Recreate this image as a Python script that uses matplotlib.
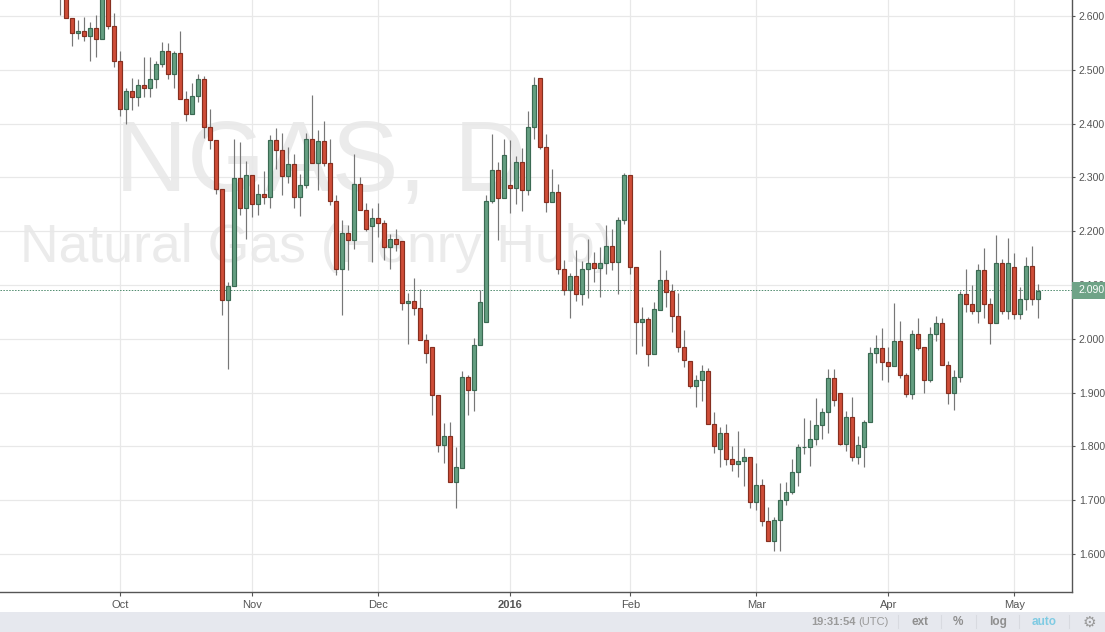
import matplotlib
matplotlib.use("Agg")
import matplotlib.pyplot as plt
from matplotlib.patches import Rectangle
import numpy as np

opens = [2.670, 2.640, 2.596, 2.568, 2.572, 2.562, 2.577, 2.557, 2.640, 2.581,
         2.516, 2.427, 2.460, 2.449, 2.471, 2.467, 2.482, 2.510, 2.534, 2.492,
         2.531, 2.445, 2.417, 2.451, 2.482, 2.393, 2.369, 2.278, 2.072, 2.098,
         2.298, 2.243, 2.304, 2.250, 2.270, 2.264, 2.370, 2.350, 2.302, 2.324,
         2.264, 2.285, 2.372, 2.326, 2.367, 2.326, 2.257, 2.129, 2.197, 2.184,
         2.287, 2.240, 2.209, 2.225, 2.216, 2.171, 2.186, 2.181, 2.066, 2.071,
         2.058, 1.997, 1.984, 1.895, 1.802, 1.820, 1.733, 1.760, 1.929, 1.904,
         1.989, 2.032, 2.257, 2.313, 2.262, 2.285, 2.281, 2.329, 2.277, 2.393,
         2.484, 2.357, 2.255, 2.272, 2.130, 2.090, 2.117, 2.084, 2.129, 2.140,
         2.132, 2.140, 2.173, 2.142, 2.220, 2.305, 2.134, 2.032, 2.036, 1.972,
         2.054, 2.109, 2.088, 2.042, 1.985, 1.959, 1.912, 1.923, 1.940, 1.842,
         1.795, 1.825, 1.777, 1.767, 1.773, 1.780, 1.697, 1.728, 1.661, 1.624,
         1.663, 1.700, 1.715, 1.752, 1.799, 1.799, 1.814, 1.840, 1.864, 1.927,
         1.899, 1.804, 1.854, 1.780, 1.799, 1.845, 1.973, 1.983, 1.957, 1.949,
         1.996, 1.932, 1.897, 2.009, 1.984, 1.923, 2.009, 2.029, 1.951, 1.899,
         1.929, 2.083, 2.064, 2.051, 2.128, 2.064, 2.029, 2.141, 2.051, 2.133,
         2.046, 2.074, 2.135, 2.074]
closes = [2.640, 2.596, 2.568, 2.572, 2.562, 2.577, 2.557, 2.640, 2.581, 2.516,
          2.427, 2.460, 2.449, 2.471, 2.467, 2.482, 2.510, 2.534, 2.492, 2.531,
          2.445, 2.417, 2.451, 2.482, 2.393, 2.369, 2.278, 2.072, 2.098, 2.298,
          2.243, 2.304, 2.250, 2.270, 2.264, 2.370, 2.350, 2.302, 2.324, 2.264,
          2.285, 2.372, 2.326, 2.367, 2.326, 2.257, 2.129, 2.197, 2.184, 2.287,
          2.240, 2.205, 2.225, 2.216, 2.171, 2.186, 2.177, 2.066, 2.071, 2.058,
          1.997, 1.973, 1.895, 1.802, 1.820, 1.733, 1.761, 1.929, 1.904, 1.988,
          2.069, 2.257, 2.313, 2.262, 2.342, 2.281, 2.329, 2.277, 2.393, 2.471,
          2.357, 2.255, 2.272, 2.130, 2.091, 2.117, 2.084, 2.129, 2.140, 2.132,
          2.140, 2.173, 2.142, 2.220, 2.305, 2.134, 2.032, 2.036, 1.972, 2.056,
          2.109, 2.087, 2.042, 1.985, 1.961, 1.912, 1.923, 1.940, 1.842, 1.801,
          1.825, 1.777, 1.767, 1.773, 1.780, 1.697, 1.728, 1.661, 1.624, 1.663,
          1.700, 1.715, 1.752, 1.799, 1.799, 1.814, 1.840, 1.864, 1.927, 1.886,
          1.804, 1.854, 1.780, 1.802, 1.845, 1.973, 1.983, 1.957, 1.949, 1.996,
          1.932, 1.897, 2.009, 1.983, 1.923, 2.009, 2.029, 1.951, 1.899, 1.929,
          2.083, 2.065, 2.051, 2.128, 2.064, 2.029, 2.141, 2.051, 2.141, 2.046,
          2.074, 2.135, 2.074, 2.088]
highs = [2.690, 2.650, 2.596, 2.593, 2.598, 2.588, 2.602, 2.650, 2.650, 2.605,
         2.534, 2.466, 2.484, 2.482, 2.524, 2.523, 2.516, 2.551, 2.549, 2.534,
         2.573, 2.461, 2.475, 2.492, 2.488, 2.428, 2.369, 2.278, 2.106, 2.371,
         2.365, 2.330, 2.304, 2.287, 2.311, 2.378, 2.391, 2.382, 2.357, 2.344,
         2.307, 2.383, 2.453, 2.389, 2.404, 2.372, 2.268, 2.220, 2.212, 2.344,
         2.300, 2.253, 2.244, 2.253, 2.220, 2.194, 2.205, 2.181, 2.086, 2.113,
         2.093, 2.008, 1.984, 1.896, 1.844, 1.846, 1.799, 1.941, 1.933, 2.001,
         2.090, 2.267, 2.380, 2.329, 2.372, 2.369, 2.339, 2.354, 2.423, 2.487,
         2.484, 2.381, 2.316, 2.288, 2.147, 2.123, 2.165, 2.144, 2.186, 2.162,
         2.170, 2.212, 2.205, 2.227, 2.309, 2.305, 2.134, 2.059, 2.041, 2.069,
         2.165, 2.127, 2.102, 2.085, 2.016, 1.959, 1.933, 1.951, 1.946, 1.864,
         1.837, 1.842, 1.801, 1.829, 1.797, 1.780, 1.770, 1.739, 1.688, 1.668,
         1.732, 1.734, 1.777, 1.805, 1.852, 1.850, 1.890, 1.871, 1.944, 1.944,
         1.899, 1.865, 1.892, 1.820, 1.849, 1.984, 2.007, 2.021, 1.984, 2.067,
         2.033, 1.936, 2.016, 2.038, 1.984, 2.022, 2.042, 2.038, 1.958, 1.942,
         2.089, 2.129, 2.100, 2.139, 2.168, 2.076, 2.193, 2.148, 2.187, 2.159,
         2.096, 2.152, 2.172, 2.102]
lows = [2.601, 2.596, 2.545, 2.558, 2.554, 2.517, 2.524, 2.557, 2.575, 2.506,
        2.415, 2.399, 2.425, 2.432, 2.450, 2.449, 2.467, 2.505, 2.482, 2.467,
        2.445, 2.405, 2.417, 2.440, 2.374, 2.352, 2.270, 2.044, 1.944, 2.098,
        2.231, 2.185, 2.227, 2.231, 2.251, 2.244, 2.315, 2.268, 2.289, 2.244,
        2.229, 2.281, 2.326, 2.277, 2.322, 2.249, 2.119, 2.045, 2.127, 2.167,
        2.240, 2.201, 2.142, 2.189, 2.146, 2.129, 2.163, 2.054, 1.991, 2.045,
        1.997, 1.955, 1.859, 1.790, 1.770, 1.733, 1.686, 1.760, 1.858, 1.865,
        1.989, 2.032, 2.253, 2.183, 2.262, 2.233, 2.251, 2.238, 2.268, 2.372,
        2.352, 2.236, 2.255, 2.121, 2.082, 2.038, 2.071, 2.062, 2.075, 2.106,
        2.078, 2.121, 2.127, 2.084, 2.214, 2.121, 1.972, 1.986, 1.950, 1.972,
        2.054, 2.059, 2.012, 1.975, 1.947, 1.909, 1.873, 1.885, 1.842, 1.788,
        1.761, 1.766, 1.754, 1.743, 1.726, 1.686, 1.682, 1.652, 1.624, 1.606,
        1.606, 1.691, 1.712, 1.726, 1.786, 1.764, 1.803, 1.814, 1.824, 1.875,
        1.802, 1.791, 1.773, 1.767, 1.761, 1.845, 1.955, 1.924, 1.919, 1.949,
        1.927, 1.891, 1.888, 1.979, 1.900, 1.919, 1.996, 1.951, 1.878, 1.867,
        1.919, 2.049, 2.046, 2.029, 2.038, 1.990, 2.029, 2.046, 2.036, 2.036,
        2.036, 2.053, 2.063, 2.038]

month_pos = [10, 32, 53, 75, 95, 116, 138, 159]
month_labels = ["Oct", "Nov", "Dec", "2016", "Feb", "Mar", "Apr", "May"]
price_ticks = [1.6, 1.7, 1.8, 1.9, 2.0, 2.1, 2.2, 2.3, 2.4, 2.5, 2.6]
last_price = 2.090

plt.rcParams["font.family"] = ["Liberation Sans", "DejaVu Sans"]

GREEN = "#659f82"
GREEN_EDGE = "#3b6a53"
RED = "#cf4d38"
RED_EDGE = "#862f20"
GRID = "#e8e8e8"
TEXT = "#555555"

fig = plt.figure(figsize=(11.05, 6.32), dpi=100)
ax = fig.add_axes([0, 1 - 592 / 632, 1071.5 / 1105, 592 / 632])

x = np.arange(len(opens))
o = np.array(opens)
c = np.array(closes)
up = c >= o

# watermark goes under everything
ax.text(0.107, 0.678, "NGAS, D", transform=ax.transAxes, fontsize=72, color="#ebebeb", zorder=0.5)
ax.text(0.019, 0.5574, "Natural Gas (Henry Hub)", transform=ax.transAxes, fontsize=38.5, color="#ebebeb", zorder=0.5)

ax.vlines(x, lows, highs, color="#777777", linewidth=0.85, zorder=2)
ax.axhline(last_price, color="#4d8a6c", linewidth=0.7, linestyle=(0, (1.5, 1.5)), zorder=1.5)
ax.bar(x[up], (c - o)[up], bottom=o[up], width=0.68, color=GREEN, edgecolor=GREEN_EDGE, linewidth=0.85, zorder=3)
ax.bar(x[~up], (c - o)[~up], bottom=o[~up], width=0.68, color=RED, edgecolor=RED_EDGE, linewidth=0.85, zorder=3)

ax.set_xlim(-10.05, 168.53)
ax.set_ylim(1.5294, 2.6297)

ax.set_xticks(month_pos)
ax.set_xticklabels(month_labels)
ax.get_xticklabels()[3].set_fontweight("bold")
ax.set_yticks(price_ticks)
ax.set_yticklabels(["%.3f" % t for t in price_ticks])
ax.yaxis.tick_right()
ax.tick_params(axis="y", labelsize=7.6, colors=TEXT, length=2.2, width=0.8, pad=3)
ax.tick_params(axis="x", labelsize=8, colors=TEXT, length=2.8, width=0.8, pad=2.8)
ax.grid(True, color=GRID, linewidth=0.9)
ax.set_axisbelow(True)

for name in ["top", "left"]:
    ax.spines[name].set_visible(False)
for name in ["bottom", "right"]:
    ax.spines[name].set_color("#555555")
    ax.spines[name].set_linewidth(1)

# last price box on the scale, covers the 2.100 label
tr = ax.get_yaxis_transform()
ax.add_patch(Rectangle((1.0, last_price - 0.016), 0.0315, 0.032, transform=tr, facecolor="#6fa387",
                       edgecolor="none", clip_on=False, zorder=10))
ax.text(1.0068, last_price, "%.3f" % last_price, transform=tr, color="white", fontsize=7.6, va="center",
        clip_on=False, zorder=11)

# bottom toolbar
fig.add_artist(Rectangle((0, 0), 1, 20.5 / 632, transform=fig.transFigure, facecolor="#e6e8ee", edgecolor="none"))


def bar_text(px, s, color="#9a9a9a", weight="normal", family=None, size=8):
    fig.text(px / 1105, 10 / 632, s, color=color, fontweight=weight, fontsize=size, va="center",
             family=family if family else plt.rcParams["font.family"])


bar_text(811, "19:31:54", weight="bold")
bar_text(858, "(UTC)")
bar_text(911, "ext", weight="bold", color="#8f8f8f", size=8.5)
bar_text(953, "%", weight="bold", color="#8f8f8f", size=8.5)
bar_text(989, "log", weight="bold", color="#8f8f8f", size=8.5)
bar_text(1032, "auto", weight="bold", color="#7fcbe3", size=8.5)
bar_text(1083, "\u2699", color="#9a9a9a", family="DejaVu Sans", size=11)

for px in [897.5, 940.5, 975.5, 1019, 1068.5]:
    fig.add_artist(plt.Line2D([px / 1105, px / 1105], [4 / 632, 17 / 632], color="#d8dae0", linewidth=0.8))

fig.savefig("out.png", dpi=100)
